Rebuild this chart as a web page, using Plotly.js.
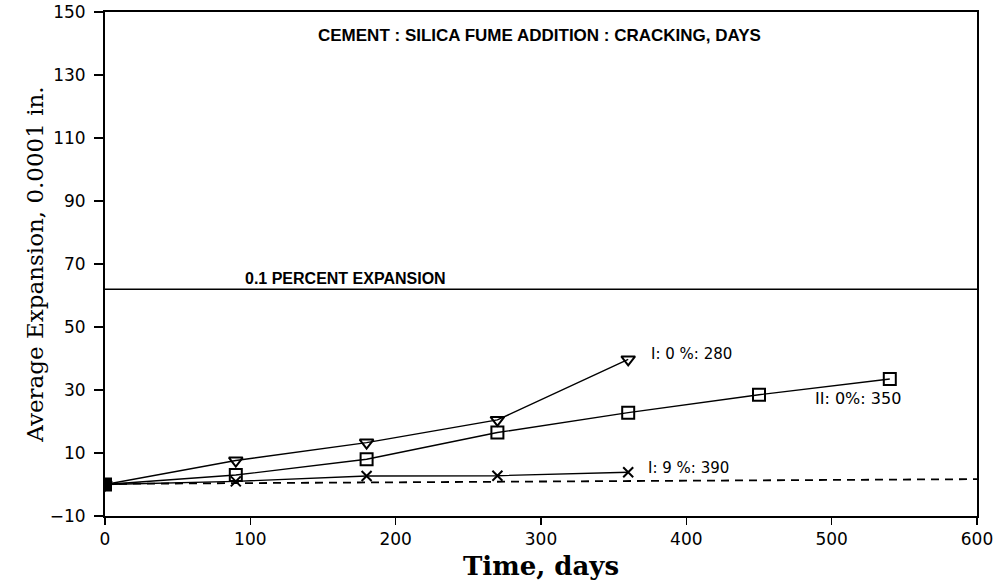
<!DOCTYPE html>
<html>
<head>
<meta charset="utf-8">
<script src="https://cdn.plot.ly/plotly-3.0.1.min.js"></script>
<style>html,body{margin:0;padding:0;background:#fff;}#chart{width:1004px;height:582px;}</style>
</head>
<body>
<div id="chart"></div>
<script>
// Data
const days = [0, 90, 180, 270, 360, 450, 540];
const typeI_0 = [0, 7.6, 13.3, 20.5, 39.7];          // I: 0% : 280
const typeII_0 = [0, 3.0, 8.0, 16.5, 22.8, 28.5, 33.5]; // II: 0% : 350
const typeI_9 = [0, 1.0, 2.7, 2.8, 3.9];             // I: 9% : 390
const baseX = [0, 600];
const baseY = [0.2, 1.7];                            // dashed reference line
const limitX = [0, 600];
const limitY = [62, 62];                             // 0.1 percent expansion
const seriesLabels = ["I: 0 %: 280", "II: 0%: 350", "I: 9 %: 390"];
const labelPos = [[374, 41.5], [487, 27.2], [372, 5.2]];
const labelSizes = [15, 16, 15];
const chartNote = "CEMENT : SILICA FUME ADDITION : CRACKING, DAYS";
const limitNote = "0.1 PERCENT EXPANSION";
const xTicks = [0, 100, 200, 300, 400, 500, 600];
const yTicks = [-10, 10, 30, 50, 70, 90, 110, 130, 150];

const lineStyle = {color: '#000', width: 1.4};
const traces = [
  {x: limitX, y: limitY, mode: 'lines', line: {color: '#000', width: 1.6}, hoverinfo: 'skip'},
  {x: baseX, y: baseY, mode: 'lines', line: {color: '#000', width: 1.8, dash: '8px,6px'}, hoverinfo: 'skip'},
  {x: days.slice(0, typeI_9.length), y: typeI_9, mode: 'lines+markers', line: lineStyle,
   marker: {symbol: 'x-thin-open', size: 10, color: '#000', line: {color: '#000', width: 2}}},
  {x: days, y: typeII_0, mode: 'lines+markers', line: lineStyle,
   marker: {symbol: days.map((d, i) => i === 0 ? 'square' : 'square-open'), size: 12, color: '#000', line: {color: '#000', width: 2}}},
  {x: days.slice(0, typeI_0.length), y: typeI_0, mode: 'lines+markers', line: lineStyle,
   marker: {symbol: 'triangle-down-open', size: 12, color: '#000', line: {color: '#000', width: 2}}}
];

const annotations = seriesLabels.map((t, i) => ({
  x: labelPos[i][0], y: labelPos[i][1], xref: 'x', yref: 'y', text: t, showarrow: false,
  xanchor: 'left', yanchor: 'middle', font: {family: 'DejaVu Sans', size: labelSizes[i], color: '#000'}
}));
annotations.push({x: 299, y: 142.5, xref: 'x', yref: 'y', xanchor: 'center', yanchor: 'middle', showarrow: false,
  text: '<b>' + chartNote + '</b>',
  font: {family: 'Liberation Sans', size: 17, color: '#000'}});
annotations.push({x: 95, y: 65.5, xref: 'x', yref: 'y', xanchor: 'left', yanchor: 'middle', showarrow: false,
  text: '<b>' + limitNote + '</b>',
  font: {family: 'Liberation Sans', size: 16, color: '#000'}});

const layout = {
  width: 1004, height: 582,
  margin: {l: 105, r: 27, t: 12, b: 66},
  paper_bgcolor: '#fff', plot_bgcolor: '#fff',
  showlegend: false,
  font: {family: 'DejaVu Sans', color: '#000'},
  xaxis: {
    range: [0, 600], tickvals: xTicks, ticktext: xTicks.map(String),
    ticks: 'outside', ticklen: 7, tickwidth: 1.5, tickcolor: '#000',
    showline: true, linecolor: '#000', linewidth: 2, mirror: true,
    showgrid: false, zeroline: false,
    tickfont: {family: 'DejaVu Sans', size: 17, color: '#000'},
    title: {text: '<b>Time, days</b>', font: {family: 'DejaVu Serif', size: 26, color: '#000'}, standoff: 8}
  },
  yaxis: {
    range: [-10, 150], tickvals: yTicks, ticktext: yTicks.map(v => v < 0 ? '\u2212' + Math.abs(v) : String(v)),
    ticks: 'outside', ticklen: 9, tickwidth: 1.5, tickcolor: '#000', ticklabelstandoff: 5,
    showline: true, linecolor: '#000', linewidth: 2, mirror: true,
    showgrid: false, zeroline: false,
    tickfont: {family: 'DejaVu Sans', size: 17, color: '#000'},
    title: {text: 'Average Expansion, 0.0001 in.', font: {family: 'DejaVu Serif', size: 23, color: '#000'}, standoff: 0}
  },
  annotations: annotations
};

Plotly.newPlot('chart', traces, layout, {staticPlot: true, displayModeBar: false});
</script>
</body>
</html>
